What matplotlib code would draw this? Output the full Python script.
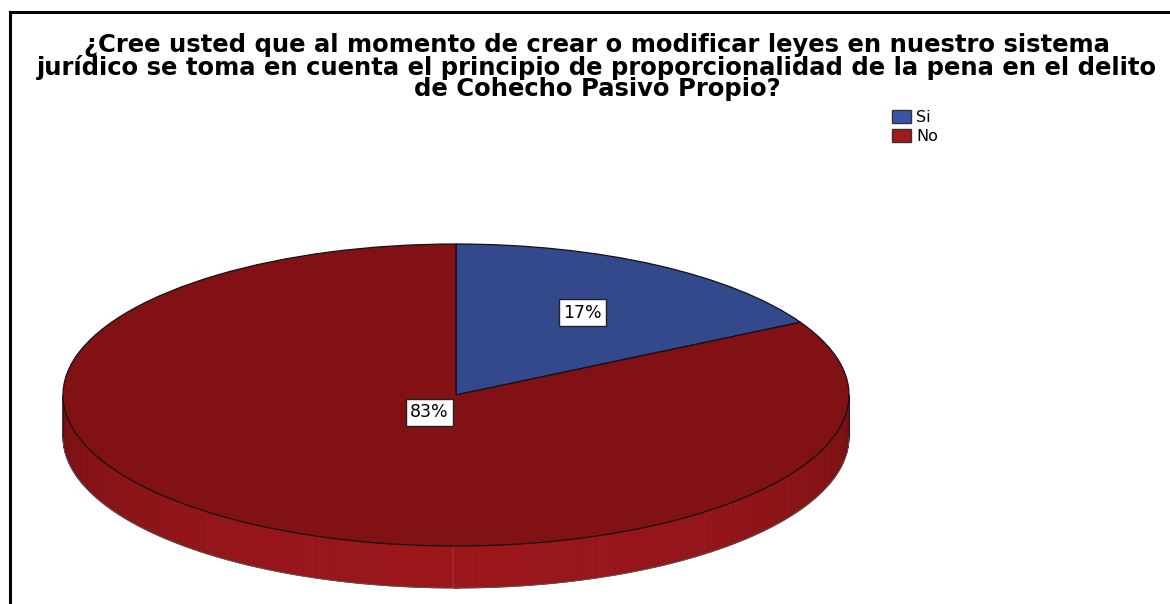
import matplotlib
matplotlib.use('Agg')
import matplotlib.pyplot as plt
import numpy as np
from matplotlib.patches import Polygon, Patch
from matplotlib.lines import Line2D
from matplotlib.colors import to_rgb

# ---- data ----
categories = ['Si', 'No']
values = [17, 83]
pct_labels = ['17%', '83%']
title = ("¿Cree usted que al momento de crear o modificar leyes en nuestro sistema\n"
         "jurídico se toma en cuenta el principio de proporcionalidad de la pena en el delito\n"
         "de Cohecho Pasivo Propio?")

# ---- style ----
top_colors = ['#33498b', '#821115']
side_light = ['#3e59a8', '#9a161b']
side_dark = ['#222f5c', '#6a0d10']
legend_colors = ['#3a55a8', '#a0191c']
label_r = [0.634, 0.133]

W, H = 1170, 604
fig = plt.figure(figsize=(W / 100, H / 100), dpi=100)
fig.patch.set_facecolor('white')
ax = fig.add_axes([0, 0, 1, 1])

cx, cy, rx, ry, depth = 456, 395, 393, 151, 42
d = depth / ry

# top face via ax.pie
wedges, _ = ax.pie(values, colors=top_colors, startangle=90, counterclock=False,
                   radius=1, center=(0, 0),
                   wedgeprops=dict(edgecolor='#111111', linewidth=0.9))
for w in wedges:
    w.set_zorder(3)
ax.set_aspect('auto')
ax.set_xlim(-cx / rx, (W - cx) / rx)
ax.set_ylim(-(H - cy) / ry, cy / ry)
ax.axis('off')

# side (extruded front half)
fr = np.array(values, dtype=float) / sum(values)
cum = np.concatenate([[0], np.cumsum(fr)])
for i in range(len(values)):
    a1 = 90 - cum[i] * 360      # start (higher)
    a2 = 90 - cum[i + 1] * 360  # end (lower)
    for k in (-360, 0, 360):
        lo = max(a2 + k, -180)
        hi = min(a1 + k, 0)
        if hi <= lo:
            continue
        th = np.linspace(lo, hi, max(int((hi - lo) / 1.0) + 2, 2))
        cl = np.array(to_rgb(side_light[i]))
        cd = np.array(to_rgb(side_dark[i]))
        for j in range(len(th) - 1):
            t0, t1 = np.radians(th[j]), np.radians(th[j + 1])
            tm = 0.5 * (t0 + t1)
            s = max(-np.sin(tm), 0) ** 0.6
            col = cd + (cl - cd) * s
            pts = [(np.cos(t0), np.sin(t0)), (np.cos(t1), np.sin(t1)),
                   (np.cos(t1), np.sin(t1) - d), (np.cos(t0), np.sin(t0) - d)]
            ax.add_patch(Polygon(pts, closed=True, facecolor=col, edgecolor=col,
                                 linewidth=0.6, zorder=1))
tt = np.radians(np.linspace(-180, 0, 200))
ax.plot(np.cos(tt), np.sin(tt) - d, color='#555555', lw=0.7, zorder=2)
ax.plot([-1, -1], [0, -d], color='#222222', lw=0.8, zorder=2)
ax.plot([1, 1], [0, -d], color='#222222', lw=0.8, zorder=2)

# percentage labels
for i, w in enumerate(wedges):
    mid = np.radians(0.5 * (w.theta1 + w.theta2))
    ax.text(label_r[i] * np.cos(mid), label_r[i] * np.sin(mid), pct_labels[i],
            ha='center', va='center', fontsize=12.5, family='DejaVu Sans', color='black',
            bbox=dict(boxstyle='square,pad=0.25', facecolor='white',
                      edgecolor='#222222', linewidth=1.0), zorder=5)

# title
fig.text(597 / W, 1 - 96 / H, title, ha='center', va='baseline', fontsize=17.5,
         fontweight='bold', family='DejaVu Sans', linespacing=0.86, color='black')

# legend
handles = [Patch(facecolor=legend_colors[i], edgecolor='#333333', linewidth=1.0)
           for i in range(len(categories))]
fig.legend(handles, categories, loc='upper left', bbox_to_anchor=(892 / W, 1 - 110 / H),
           frameon=False, fontsize=11.5, handlelength=1.2, handleheight=0.9,
           handletextpad=0.3, labelspacing=0.25, borderaxespad=0, borderpad=0)

# frame
fig.add_artist(Line2D([10 / W, 10 / W], [0, 1 - 12 / H], transform=fig.transFigure,
                      color='black', lw=2.2))
fig.add_artist(Line2D([10 / W, 1], [1 - 12 / H, 1 - 12 / H], transform=fig.transFigure,
                      color='black', lw=2.2))

fig.savefig('out.png', dpi=100, facecolor='white')
